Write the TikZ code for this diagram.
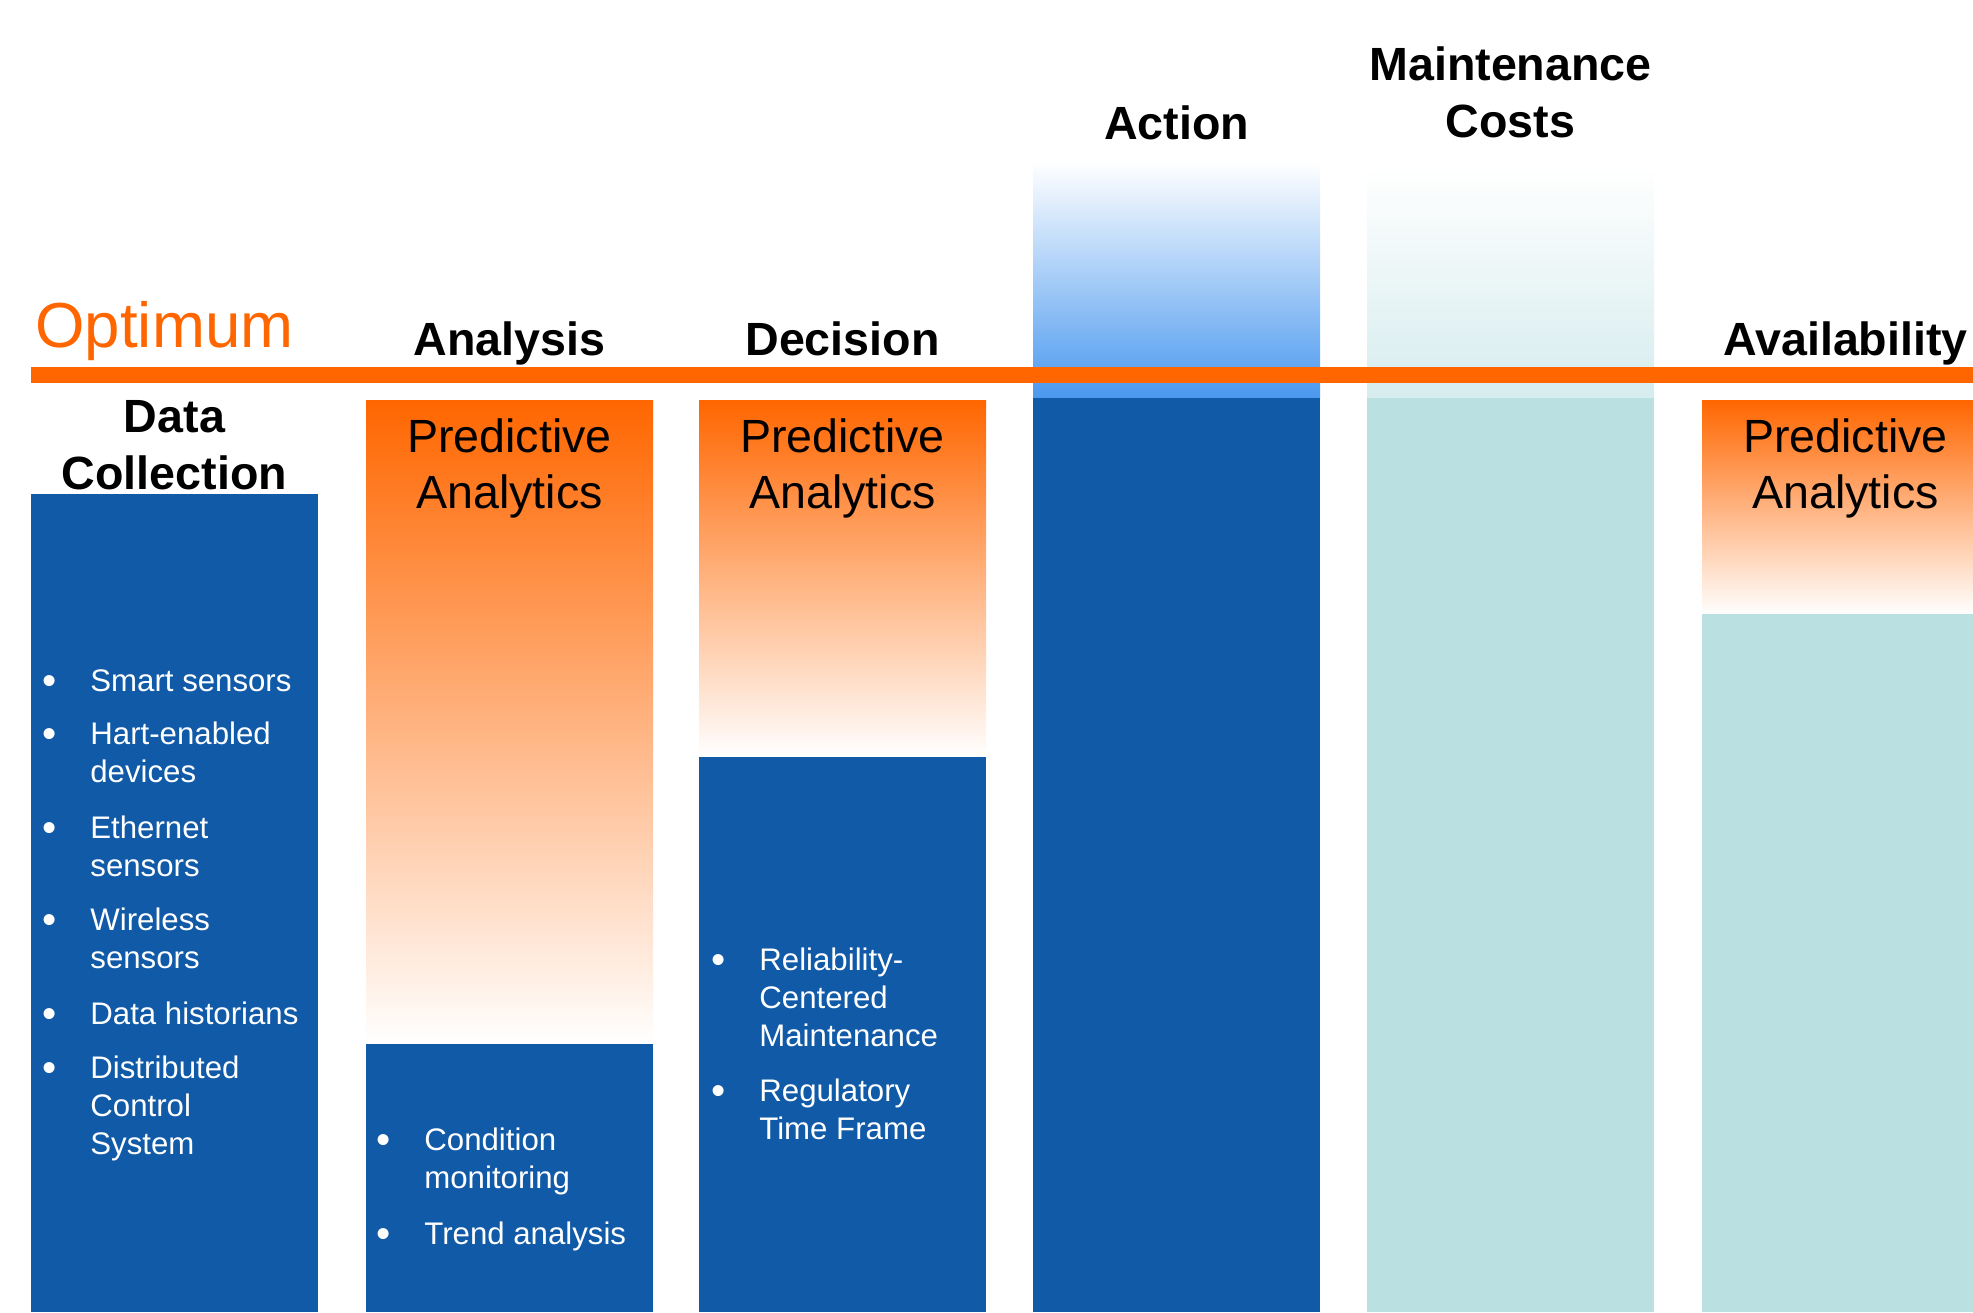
\documentclass[tikz,border=0pt]{standalone}
\usepackage{fontspec}
\setmainfont{Liberation Sans}
\usepackage{xcolor}

\definecolor{plantblue}{HTML}{105AA8}
\definecolor{plantteal}{HTML}{BAE0E2}
\definecolor{pmorange}{HTML}{FF6600}
\definecolor{skyblue}{HTML}{4A98EF}
\definecolor{paleteal}{HTML}{D6ECEE}

\newcommand{\lines}[1]{\begin{tabular}[t]{@{}l@{}}#1\end{tabular}}
\newcommand{\heading}[1]{\begin{tabular}[t]{@{}c@{}}#1\end{tabular}}
\newcommand{\bigdot}{\raisebox{-0.1em}{\scalebox{1.3}{\textbullet}}}
\newcommand{\bitem}[1]{\llap{\bigdot\hskip17pt}\lines{#1}}

\begin{document}
\begin{tikzpicture}
  [x=0.5pt,y=-0.5pt,every node/.style={inner sep=0pt},
   title/.style={font=\fontsize{23.3}{28.5}\selectfont\bfseries,anchor=base},
   predict/.style={font=\fontsize{23.3}{28}\selectfont,anchor=base},
   item/.style={font=\fontsize{15.6}{19}\selectfont,text=white,anchor=base west}]
  \useasboundingbox (0,0) rectangle (1973,1312);
  \clip (0,0) rectangle (1973,1312);

  \fill[plantblue] (31,494) rectangle (318,1312);
  \shade[top color=pmorange,bottom color=white] (366,400) rectangle (653,1044);
  \fill[plantblue] (366,1044) rectangle (653,1312);
  \shade[top color=pmorange,bottom color=white] (699,400) rectangle (986,757);
  \fill[plantblue] (699,757) rectangle (986,1312);
  \shade[top color=white,bottom color=skyblue] (1033,162) rectangle (1320,398);
  \fill[plantblue] (1033,398) rectangle (1320,1312);
  \shade[top color=white,bottom color=paleteal] (1367,166) rectangle (1654,398);
  \fill[plantteal] (1367,398) rectangle (1654,1312);
  \shade[top color=pmorange,bottom color=white] (1702,400) rectangle (1989,614);
  \fill[plantteal] (1702,614) rectangle (1989,1312);

  \fill[pmorange] (31,367) rectangle (1973,383);

  \node[text=pmorange,font=\fontsize{31.8}{36}\selectfont,anchor=base west] (optimum) at (35,347) {Optimum};
  \node[title] (datacoll) at (174.5,432) {\heading{Data\\Collection}};
  \node[title] (analysis) at (509.5,355) {Analysis};
  \node[title] (decision) at (842.5,355) {Decision};
  \node[title] (action) at (1176.5,139) {Action};
  \node[title] (maintcost) at (1510.5,80) {\heading{Maintenance\\Costs}};
  \node[title] (avail) at (1845.5,355) {Availability};

  \foreach \x/\n in {509.5/pa1,842.5/pa2,1845.5/pa3}
    \node[predict] (\n) at (\x,452) {\heading{Predictive\\Analytics}};

  \node[item] (smart) at (90,691) {\bitem{Smart sensors}};
  \node[item] (hart) at (90,744) {\bitem{Hart-enabled\\devices}};
  \node[item] (ether) at (90,838) {\bitem{Ethernet\\sensors}};
  \node[item] (wireless) at (90,930) {\bitem{Wireless\\sensors}};
  \node[item] (historian) at (90,1024) {\bitem{Data historians}};
  \node[item] (dcs) at (90,1078) {\bitem{Distributed\\Control\\System}};
  \node[item] (condition) at (424,1150) {\bitem{Condition\\monitoring}};
  \node[item] (trend) at (424,1244) {\bitem{Trend analysis}};
  \node[item] (rcm) at (759,970) {\bitem{Reliability-\\Centered\\Maintenance}};
  \node[item] (regul) at (759,1101) {\bitem{Regulatory\\Time Frame}};

\end{tikzpicture}
\end{document}
